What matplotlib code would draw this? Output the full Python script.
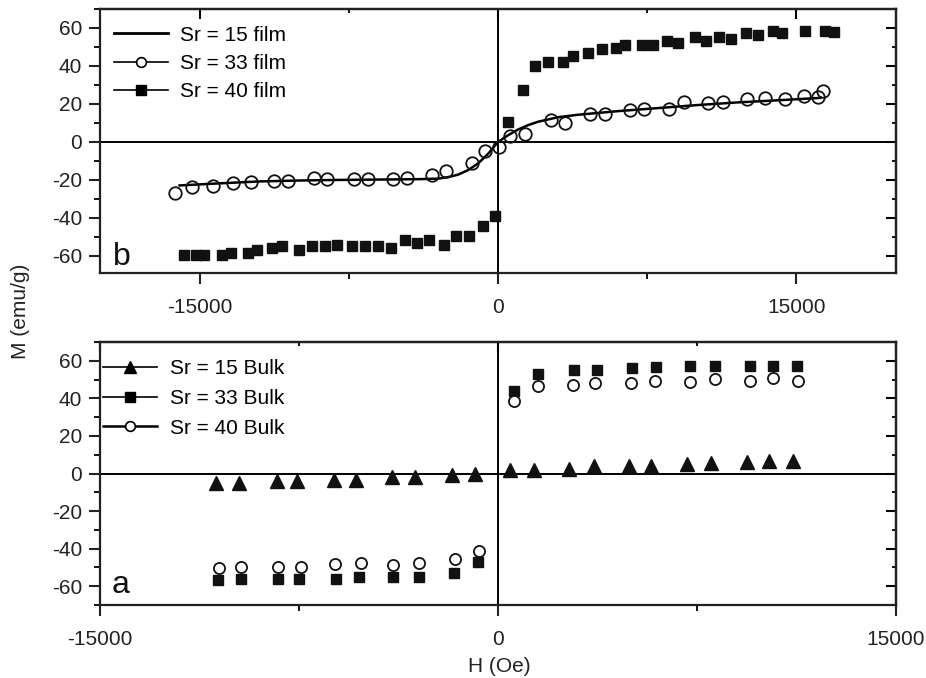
import matplotlib.pyplot as plt
from matplotlib.lines import Line2D
from matplotlib.ticker import MultipleLocator, FixedLocator

plt.rcParams['font.family'] = ['Liberation Sans', 'DejaVu Sans']
plt.rcParams['font.size'] = 15

# ---- panel b: films ----
film15_h = [-16000, -14000, -12000, -10000, -8000, -6000, -4000, -3000, -2500, -2000,
            -1500, -1000, -500, 0, 500, 1000, 1500, 2000, 3000, 4000, 6000, 8000,
            10000, 12000, 14000, 16200]
film15_m = [-22.9, -21.8, -20.8, -20.3, -20.0, -19.8, -19.6, -19.3, -18.5, -17.2,
            -14.8, -11.3, -6.3, 0.0, 3.5, 6.5, 8.8, 10.6, 13.0, 14.3, 16.2, 17.8,
            19.4, 20.8, 21.9, 23.2]

film33_h = [-16250, -15370, -14330, -13330, -12430, -11240, -10540, -9240, -8570, -7230,
            -6530, -5280, -4560, -3310, -2590, -1300, -630, 70, 620, 1370, 2680, 3380,
            4630, 5380, 6640, 7350, 8590, 9360, 10560, 11310, 12530, 13400, 14430,
            15370, 16070, 16320]
film33_m = [-27.0, -23.8, -23.3, -21.7, -21.2, -20.3, -20.3, -18.9, -19.4, -19.4,
            -19.4, -19.4, -18.9, -17.3, -15.5, -11.1, -4.9, -2.6, 3.0, 4.4, 11.5, 10.1,
            14.7, 14.7, 16.8, 17.6, 17.6, 20.8, 20.6, 20.8, 22.4, 23.3, 22.4,
            24.2, 23.8, 26.8]

film40_h = [-15790, -15170, -14750, -13860, -13430, -12580, -12110, -11360, -10830, -9990,
            -9350, -8700, -8070, -7320, -6680, -6040, -5390, -4680, -4090, -3470,
            -2720, -2130, -1470, -750, -130,
            500, 1240, 1840, 2510, 3290, 3790, 4510, 5210, 5910, 6390, 7250, 7770,
            8470, 9060, 9890, 10440, 11100, 11700, 12480, 13070, 13820, 14270, 15410,
            16410, 16880]
film40_m = [-59.4, -59.4, -59.4, -59.4, -58.5, -58.4, -56.8, -56.1, -55.0, -56.8,
            -55.0, -55.0, -54.3, -55.0, -55.0, -54.7, -55.9, -51.5, -53.2, -51.5,
            -54.3, -49.7, -49.7, -44.4, -38.8,
            10.6, 27.2, 40.1, 42.2, 42.2, 45.3, 46.8, 48.9, 49.7, 50.8, 51.2, 50.8,
            52.9, 51.9, 55.0, 52.9, 55.0, 54.2, 57.4, 56.5, 58.2, 57.4, 58.2,
            58.2, 57.7]

# ---- panel a: bulk ----
bulk15_h = [-10630, -9760, -8320, -7560, -6180, -5370, -3990, -3110, -1730, -850,
            470, 1340, 2660, 3600, 4920, 5770, 7110, 8020, 9370, 10220, 11130]
bulk15_m = [-5.0, -5.0, -4.1, -4.1, -3.2, -3.2, -2.0, -2.0, -0.9, -0.2,
            2.1, 2.1, 2.5, 3.9, 3.9, 3.9, 4.8, 5.7, 6.0, 6.9, 6.9]

bulk33_h = [-10540, -9670, -8290, -7500, -6120, -5220, -3960, -2960, -1670, -760,
            590, 1510, 2850, 3730, 5040, 5950, 7240, 8180, 9500, 10350, 11250]
bulk33_m = [-56.7, -56.0, -56.0, -56.0, -56.0, -55.0, -55.0, -55.0, -52.8, -47.0,
            43.8, 52.7, 55.0, 55.3, 56.2, 56.7, 57.1, 57.1, 57.1, 57.1, 57.4]

bulk40_h = [-10510, -9690, -8290, -7440, -6150, -5180, -3960, -2980, -1630, -730,
            590, 1510, 2820, 3660, 5020, 5900, 7240, 8180, 9500, 10370, 11290]
bulk40_m = [-50.2, -49.6, -49.6, -49.6, -48.4, -47.9, -48.9, -47.9, -45.7, -41.3,
            38.5, 46.4, 47.3, 48.2, 48.2, 49.5, 48.8, 50.5, 49.1, 50.9, 49.1]

film_labels = ["Sr = 15 film", "Sr = 33 film", "Sr = 40 film"]
bulk_labels = ["Sr = 15 Bulk", "Sr = 33 Bulk", "Sr = 40 Bulk"]

W, H = 926, 678
fig = plt.figure(figsize=(W / 100, H / 100), dpi=100)
ax_b = fig.add_axes([100 / W, 1 - 273 / H, 796 / W, 264 / H])
ax_a = fig.add_axes([100 / W, 1 - 605 / H, 796 / W, 263 / H])


def style_axes(ax, xlim, ylim):
    ax.set_xlim(*xlim)
    ax.set_ylim(*ylim)
    ax.axhline(0, color='black', lw=1.4, zorder=1)
    ax.axvline(0, color='black', lw=1.4, zorder=1)
    for s in ax.spines.values():
        s.set_linewidth(1.6)
        s.set_color('#222222')
    ax.xaxis.set_major_locator(FixedLocator([-15000, 0, 15000]))
    ax.xaxis.set_minor_locator(FixedLocator([-7500, 7500]))
    ax.yaxis.set_major_locator(MultipleLocator(20))
    ax.yaxis.set_minor_locator(MultipleLocator(10))
    ax.set_xticklabels(['-15000', '0', '15000'])
    ax.set_yticks([-60, -40, -20, 0, 20, 40, 60])
    ax.set_yticklabels(['-60', '-40', '-20', '0', '20', '40', '60'])
    ax.tick_params(which='major', direction='out', length=8, width=1.5,
                   labelsize=15, colors='#222222')
    ax.tick_params(which='minor', direction='out', length=4, width=1.3)
    ax.tick_params(axis='x', which='major', pad=10)
    ax.tick_params(axis='y', which='major', pad=5)
    # inward ticks on top and right
    sx = ax.secondary_xaxis('top')
    sx.xaxis.set_major_locator(FixedLocator([-15000, 0, 15000]))
    sx.xaxis.set_minor_locator(FixedLocator([-7500, 7500]))
    sx.tick_params(which='major', direction='in', length=7, width=1.5, labeltop=False)
    sx.tick_params(which='minor', direction='in', length=3, width=1.3)
    sx.spines['top'].set_linewidth(1.6)
    sy = ax.secondary_yaxis('right')
    sy.yaxis.set_major_locator(MultipleLocator(20))
    sy.yaxis.set_minor_locator(MultipleLocator(10))
    sy.tick_params(which='major', direction='in', length=7, width=1.5, labelright=False)
    sy.tick_params(which='minor', direction='in', length=3, width=1.3)
    sy.spines['right'].set_linewidth(1.6)


style_axes(ax_b, (-20000, 20000), (-69, 70))
style_axes(ax_a, (-15000, 15000), (-70, 70))

# panel b data
ax_b.plot(film15_h, film15_m, color='black', lw=1.8, zorder=3)
ax_b.plot(film33_h, film33_m, ls='none', marker='o', ms=9, mfc='none',
          mec='#111111', mew=1.3, zorder=4)
ax_b.plot(film40_h, film40_m, ls='none', marker='s', ms=7.5, mfc='#111111',
          mec='#111111', zorder=4)

film_handles = [
    Line2D([], [], color='black', lw=2.0),
    Line2D([], [], color='black', lw=1.2, marker='o', ms=7, mfc='white', mec='black', mew=1.2),
    Line2D([], [], color='black', lw=1.2, marker='s', ms=7.5, mfc='black', mec='black'),
]
ax_b.legend(film_handles, film_labels, loc='upper left', frameon=False,
            bbox_to_anchor=(0.017, 0.937), borderaxespad=0, borderpad=0,
            handlelength=2.6, handletextpad=0.6, labelspacing=0.45, fontsize=15)
ax_b.text(0.016, 0.03, 'b', transform=ax_b.transAxes, fontsize=23,
          ha='left', va='baseline', color='#111111')

# panel a data
ax_a.plot(bulk15_h, bulk15_m, ls='none', marker='^', ms=9.5, mfc='#111111',
          mec='#111111', zorder=4)
ax_a.plot(bulk33_h, bulk33_m, ls='none', marker='s', ms=7.5, mfc='#111111',
          mec='#111111', zorder=4)
ax_a.plot(bulk40_h, bulk40_m, ls='none', marker='o', ms=8, mfc='white',
          mec='#111111', mew=1.3, zorder=5)

bulk_handles = [
    Line2D([], [], color='black', lw=1.2, marker='^', ms=8.5, mfc='black', mec='black'),
    Line2D([], [], color='black', lw=1.2, marker='s', ms=7.5, mfc='black', mec='black'),
    Line2D([], [], color='black', lw=1.8, marker='o', ms=7, mfc='white', mec='black', mew=1.2),
]
ax_a.legend(bulk_handles, bulk_labels, loc='upper left', frameon=False,
            bbox_to_anchor=(0.004, 0.935), borderaxespad=0, borderpad=0,
            handlelength=2.6, handletextpad=0.6, labelspacing=0.52, fontsize=15)
ax_a.text(0.015, 0.045, 'a', transform=ax_a.transAxes, fontsize=23,
          ha='left', va='baseline', color='#111111')

fig.text(21 / W, 1 - 311 / H, 'M (emu/g)', rotation=90, ha='center', va='center',
         fontsize=15, color='#222222')
fig.text(499 / W, 1 - 666 / H, 'H (Oe)', ha='center', va='center',
         fontsize=15, color='#222222')

fig.savefig('out.png', dpi=100)
